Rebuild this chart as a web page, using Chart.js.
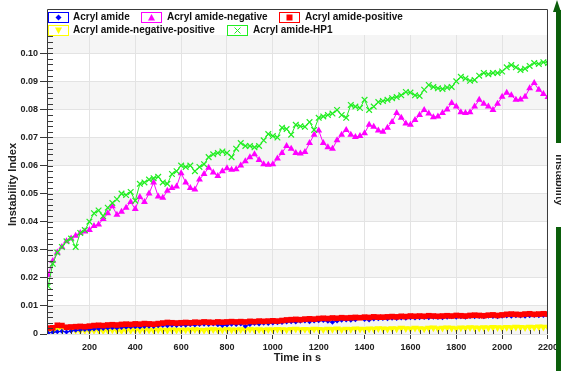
<!DOCTYPE html>
<html lang="en">
  <head>
    <title>Instability Index</title>
    <script src="https://cdn.jsdelivr.net/npm/chart.js@4.4.0/dist/chart.umd.min.js"></script>
    <style>
      body{
        margin: 0;
        background-color: #ffffff;
      }
    </style>
  </head>
  <body>
    <canvas id="instabilityChart" width="561" height="371"></canvas>
    <script>
      // time axis, one sample every 20 s
      const times = Array.from({length: 110}, (_, i) => 20 + i * 20);
      const timeTicks = [200, 400, 600, 800, 1000, 1200, 1400, 1600, 1800, 2000, 2200];
      const indexTicks = [0, 0.01, 0.02, 0.03, 0.04, 0.05, 0.06, 0.07, 0.08, 0.09, 0.10];

      const acryl = [
        .0004,.0006,.0008,.0010,.0007,.0011,.0013,.0014,.0016,.0015,
        .0018,.0019,.0020,.0021,.0022,.0021,.0023,.0024,.0025,.0026,
        .0025,.0027,.0028,.0027,.0029,.0030,.0029,.0031,.0030,.0032,
        .0031,.0033,.0032,.0034,.0035,.0034,.0036,.0033,.0030,.0032,
        .0035,.0034,.0036,.0028,.0034,.0037,.0036,.0038,.0037,.0039,
        .0040,.0041,.0043,.0044,.0043,.0045,.0046,.0044,.0046,.0047,
        .0048,.0045,.0042,.0046,.0049,.0050,.0049,.0051,.0059,.0052,
        .0050,.0053,.0054,.0055,.0054,.0056,.0055,.0057,.0056,.0058,
        .0057,.0058,.0059,.0058,.0060,.0059,.0058,.0060,.0061,.0060,
        .0061,.0060,.0062,.0061,.0062,.0061,.0063,.0062,.0061,.0063,
        .0064,.0063,.0065,.0064,.0063,.0065,.0066,.0065,.0066,.0065
      ];
      const acrylNeg = [
        .021,.026,.029,.031,.033,.034,.035,.036,.0365,.037,
        .0385,.039,.041,.043,.0455,.0425,.0435,.045,.047,.0445,
        .0488,.047,.050,.054,.049,.0485,.051,.052,.0525,.0573,
        .054,.052,.0515,.055,.057,.0592,.0575,.0563,.058,.059,
        .0585,.0587,.060,.0615,.063,.064,.062,.0605,.0603,.0605,
        .0625,.0645,.067,.066,.0645,.0643,.0648,.068,.071,.0725,
        .068,.0665,.066,.069,.071,.0727,.071,.0702,.0705,.0715,
        .0745,.0738,.0725,.072,.0735,.0755,.0787,.077,.075,.0745,
        .0762,.078,.0798,.0785,.0772,.0775,.0787,.080,.0823,.081,
        .079,.0787,.079,.081,.0834,.082,.081,.0798,.082,.0845,
        .0859,.085,.0834,.0835,.0845,.0875,.0894,.087,.0855,.0844
      ];
      const acrylPos = [
        .0021,.0022,.0031,.0030,.0024,.0025,.0026,.0027,.0026,.0028,
        .0030,.0031,.0030,.0032,.0033,.0032,.0034,.0035,.0034,.0036,
        .0035,.0037,.0036,.0035,.0037,.0039,.0041,.0040,.0039,.0040,
        .0041,.0040,.0042,.0041,.0043,.0042,.0041,.0043,.0042,.0043,
        .0044,.0043,.0044,.0043,.0045,.0044,.0046,.0045,.0046,.0047,
        .0046,.0048,.0050,.0051,.0052,.0051,.0053,.0054,.0053,.0055,
        .0056,.0055,.0057,.0056,.0058,.0057,.0058,.0059,.0058,.0060,
        .0059,.0061,.0060,.0060,.0061,.0062,.0061,.0063,.0062,.0064,
        .0063,.0064,.0063,.0065,.0064,.0063,.0064,.0065,.0064,.0066,
        .0065,.0064,.0066,.0067,.0066,.0065,.0067,.0068,.0066,.0068,
        .0070,.0071,.0070,.0069,.0071,.0072,.0070,.0071,.0072,.0071
      ];
      const acrylNegPos = [
        .0010,.0012,.0015,.0022,.0024,.0018,.0013,.0012,.0013,.0012,
        .0013,.0014,.0012,.0013,.0015,.0013,.0012,.0014,.0013,.0014,
        .0013,.0015,.0014,.0013,.0015,.0014,.0013,.0015,.0014,.0013,
        .0015,.0014,.0016,.0014,.0013,.0015,.0016,.0014,.0015,.0016,
        .0015,.0014,.0016,.0015,.0017,.0015,.0016,.0014,.0016,.0015,
        .0017,.0016,.0015,.0017,.0018,.0016,.0017,.0016,.0018,.0017,
        .0016,.0018,.0017,.0019,.0016,.0018,.0017,.0019,.0018,.0017,
        .0019,.0018,.0020,.0019,.0018,.0020,.0019,.0021,.0020,.0019,
        .0021,.0020,.0019,.0021,.0022,.0020,.0021,.0022,.0021,.0020,
        .0022,.0021,.0023,.0022,.0021,.0023,.0022,.0024,.0023,.0022,
        .0024,.0023,.0025,.0024,.0023,.0025,.0024,.0026,.0025,.0024
      ];
      const acrylHP1 = [
        .017,.025,.029,.031,.033,.034,.031,.036,.037,.040,
        .043,.044,.042,.045,.0467,.048,.050,.0495,.0506,.0475,
        .0535,.054,.055,.0555,.056,.054,.0535,.057,.058,.060,
        .0595,.060,.058,.0595,.0605,.063,.064,.0645,.065,.0645,
        .063,.066,.068,.067,.067,.0665,.067,.069,.0712,.0705,
        .070,.0735,.073,.071,.0745,.074,.0738,.0755,.0727,.077,
        .0775,.078,.0785,.0798,.078,.077,.0816,.081,.0805,.0834,
        .0798,.081,.0826,.083,.0834,.084,.0844,.085,.0862,.086,
        .085,.0848,.087,.0887,.088,.0875,.0873,.0878,.088,.090,
        .0916,.091,.0902,.0905,.092,.093,.0925,.093,.093,.0935,
        .095,.0958,.095,.094,.0945,.0955,.0965,.0962,.0968,.0965
      ];

      const FONT = "'Liberation Sans', Arial, sans-serif";
      const toPoints = (vals) => vals.map((v, i) => ({x: times[i], y: v}));

      function series(label, vals, color, style, radius, order, rotation) {
        return {
          label: label,
          data: toPoints(vals),
          showLine: true,
          borderColor: color,
          backgroundColor: color,
          borderWidth: 1,
          pointStyle: style,
          pointRadius: radius,
          pointRotation: rotation || 0,
          pointBorderWidth: style === "crossRot" ? 1.2 : 0,
          pointBorderColor: color,
          pointBackgroundColor: color,
          order: order
        };
      }

      // small marker inside a legend box
      function legendMarker(ctx, kind, cx, cy, color) {
        ctx.fillStyle = color;
        ctx.strokeStyle = color;
        ctx.beginPath();
        if (kind === "diamond") {
          ctx.moveTo(cx, cy - 3); ctx.lineTo(cx + 3, cy); ctx.lineTo(cx, cy + 3); ctx.lineTo(cx - 3, cy);
          ctx.closePath(); ctx.fill();
        } else if (kind === "up") {
          ctx.moveTo(cx, cy - 3.5); ctx.lineTo(cx + 3.5, cy + 3); ctx.lineTo(cx - 3.5, cy + 3);
          ctx.closePath(); ctx.fill();
        } else if (kind === "down") {
          ctx.moveTo(cx, cy + 3.5); ctx.lineTo(cx + 3.5, cy - 3); ctx.lineTo(cx - 3.5, cy - 3);
          ctx.closePath(); ctx.fill();
        } else if (kind === "square") {
          ctx.fillRect(cx - 3, cy - 3, 6, 6);
        } else {
          ctx.lineWidth = 1;
          ctx.moveTo(cx - 3, cy - 3); ctx.lineTo(cx + 3, cy + 3);
          ctx.moveTo(cx + 3, cy - 3); ctx.lineTo(cx - 3, cy + 3);
          ctx.stroke();
        }
      }

      // bands, frame, minor ticks, legend and the side arrow
      const decor = {
        id: "decor",
        beforeDraw(chart) {
          const {ctx, chartArea: a, scales: {y}} = chart;
          ctx.save();
          ctx.fillStyle = "#ffffff";
          ctx.fillRect(0, 0, chart.width, chart.height);
          ctx.fillStyle = "#f5f5f5";
          for (let v = 0; v < 0.11; v += 0.02) {
            const top = Math.max(y.getPixelForValue(v + 0.01), a.top);
            const bot = y.getPixelForValue(v);
            ctx.fillRect(a.left, top, a.right - a.left, bot - top);
          }
          ctx.restore();
        },
        afterDraw(chart) {
          const {ctx, chartArea: a, scales: {x, y}} = chart;
          const frameTop = 9;
          ctx.save();
          // frame
          ctx.strokeStyle = "#3a3a3a";
          ctx.lineWidth = 1;
          ctx.beginPath();
          ctx.moveTo(a.left + 0.5, a.bottom);
          ctx.lineTo(a.left + 0.5, frameTop + 0.5);
          ctx.lineTo(a.right - 0.5, frameTop + 0.5);
          ctx.lineTo(a.right - 0.5, a.bottom);
          ctx.stroke();
          // minor ticks inside the plot
          ctx.beginPath();
          for (let v = 0.002; v < y.max; v += 0.002) {
            const py = Math.round(y.getPixelForValue(v)) + 0.5;
            ctx.moveTo(a.left, py);
            ctx.lineTo(a.left + 6, py);
          }
          for (let t = 40; t < x.max; t += 40) {
            if (t < x.min) continue;
            const px = Math.round(x.getPixelForValue(t)) + 0.5;
            ctx.moveTo(px, a.bottom);
            ctx.lineTo(px, a.bottom - 4);
          }
          ctx.stroke();

          // legend
          const items = [
            {ds: 0, kind: "diamond", bx: 48, by: 12, tx: 73},
            {ds: 1, kind: "up", bx: 141, by: 12, tx: 167},
            {ds: 2, kind: "square", bx: 279, by: 12, tx: 305},
            {ds: 3, kind: "down", bx: 48, by: 25, tx: 73},
            {ds: 4, kind: "cross", bx: 227, by: 25, tx: 253}
          ];
          ctx.font = "bold 10px " + FONT;
          ctx.textBaseline = "middle";
          items.forEach(it => {
            const d = chart.data.datasets[it.ds];
            ctx.strokeStyle = d.borderColor;
            ctx.lineWidth = 1;
            ctx.strokeRect(it.bx + 0.5, it.by + 0.5, 20, 10);
            legendMarker(ctx, it.kind, it.bx + 10.5, it.by + 5.5, d.borderColor);
            ctx.fillStyle = "#111111";
            ctx.fillText(d.label, it.tx, it.by + 5.5);
          });

          // side arrow with label
          ctx.fillStyle = "#0b5e0b";
          ctx.beginPath();
          ctx.moveTo(557, 0);
          ctx.lineTo(553, 12);
          ctx.lineTo(561, 12);
          ctx.closePath();
          ctx.fill();
          ctx.fillRect(556, 10, 6, 133);
          ctx.fillRect(556, 227, 6, 144);
          ctx.translate(559, 180);
          ctx.rotate(Math.PI / 2);
          ctx.fillStyle = "#222222";
          ctx.font = "bold 11px " + FONT;
          ctx.textAlign = "center";
          ctx.textBaseline = "middle";
          ctx.fillText("Instability", 0, 0);
          ctx.restore();
        }
      };

      const ctx = document.getElementById("instabilityChart").getContext("2d");
      const instabilityChart = new Chart(ctx, {
        type: "scatter",
        data: {
          datasets: [
            series("Acryl amide", acryl, "#0000ff", "rectRot", 2.5, 3),
            series("Acryl amide-negative", acrylNeg, "#ff00ff", "triangle", 4, 1),
            series("Acryl amide-positive", acrylPos, "#ff0000", "rect", 4, 2),
            series("Acryl amide-negative-positive", acrylNegPos, "#ffff00", "triangle", 4.5, 4, 180),
            series("Acryl amide-HP1", acrylHP1, "#22ee22", "crossRot", 4, 0)
          ]
        },
        options: {
          responsive: false,
          animation: false,
          devicePixelRatio: 1,
          layout: {
            padding: {top: 35, right: 13, bottom: 0, left: 0}
          },
          plugins: {
            legend: {display: false},
            tooltip: {enabled: false}
          },
          scales: {
            x: {
              type: "linear",
              min: 15,
              max: 2200,
              afterBuildTicks: (scale) => {
                scale.ticks = timeTicks.map(v => ({value: v}));
              },
              afterFit: (scale) => { scale.height = 37; },
              grid: {
                color: "#e3e3e3",
                tickColor: "#3a3a3a",
                tickLength: 5
              },
              border: {display: false},
              ticks: {
                color: "#222222",
                padding: 3,
                maxRotation: 0,
                autoSkip: false,
                font: {family: FONT, size: 9, weight: "bold"},
                callback: (v) => String(v)
              },
              title: {
                display: true,
                text: "Time in s",
                color: "#222222",
                padding: {top: 0, bottom: 6},
                font: {family: FONT, size: 11, weight: "bold"}
              }
            },
            y: {
              min: 0,
              max: 0.1065,
              afterBuildTicks: (scale) => {
                scale.ticks = indexTicks.map(v => ({value: v}));
              },
              afterFit: (scale) => { scale.width = 47; },
              grid: {
                color: "#e3e3e3",
                tickColor: "#3a3a3a",
                tickLength: 7
              },
              border: {display: false},
              ticks: {
                color: "#222222",
                padding: 2,
                autoSkip: false,
                font: {family: FONT, size: 9, weight: "bold"},
                callback: (v) => v === 0 ? "0" : v.toFixed(2)
              },
              title: {
                display: true,
                text: "Instability Index",
                color: "#222222",
                padding: {top: 6, bottom: 0},
                font: {family: FONT, size: 11, weight: "bold"}
              }
            }
          }
        },
        plugins: [decor]
      });
    </script>
  </body>
</html>
